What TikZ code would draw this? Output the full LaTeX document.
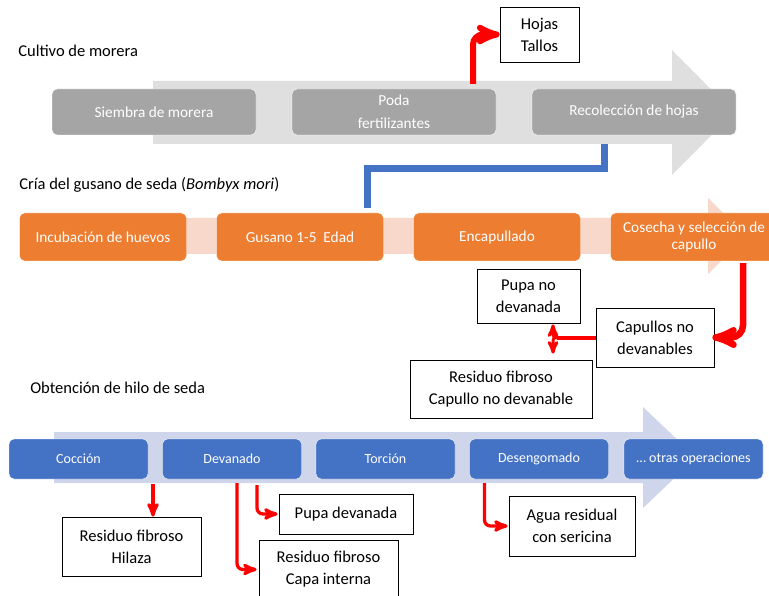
\documentclass[tikz,border=0pt]{standalone}
\usepackage{fontspec}
\setmainfont{Carlito}
\usetikzlibrary{arrows}

\definecolor{boxgray}{HTML}{A5A5A5}
\definecolor{boxorange}{HTML}{ED7D31}
\definecolor{boxblue}{HTML}{4472C4}
\definecolor{bandgray}{HTML}{DFDFDF}
\definecolor{bandpink}{HTML}{F8D8CB}
\definecolor{bandblue}{HTML}{CFD5EA}

\begin{document}
\begin{tikzpicture}[x=1pt,y=-1pt,>=stealth',semithick]
  \tikzstyle{stage}=[rounded corners=5pt,draw=white,thin,text=white,align=center,inner sep=2pt]
  \tikzstyle{graybox}=[stage,fill=boxgray,minimum width=204pt,minimum height=46pt,font=\fontsize{15.3}{23}\selectfont]
  \tikzstyle{orangebox}=[stage,fill=boxorange,minimum width=167pt,minimum height=48pt,font=\fontsize{15.3}{17}\selectfont]
  \tikzstyle{bluebox}=[stage,fill=boxblue,minimum width=139pt,minimum height=40pt,font=\fontsize{14}{17}\selectfont]
  \tikzstyle{outbox}=[draw=black,fill=white,thick,align=center,inner sep=2pt,font=\fontsize{16.5}{22}\selectfont]
  \tikzstyle{rowtitle}=[anchor=base west,inner sep=0pt,font=\fontsize{16.5}{20}\selectfont]
  \tikzstyle{waste}=[->,red,line width=3.3pt,rounded corners=6pt]

  \useasboundingbox (0,0) rectangle (769,596);
  \clip (0,0) rectangle (769,596);

  % process bands
  \fill[bandgray] (153,81) -- (672,81) -- (672,50) -- (734,112.5)
                  -- (672,175) -- (672,144) -- (153,144) -- cycle;
  \fill[bandpink] (50,218) -- (708,218) -- (708,198) -- (746,236)
                  -- (708,274) -- (708,254) -- (50,254) -- cycle;
  \fill[bandblue] (54,432) -- (643,432) -- (643,407) -- (696,457.5)
                  -- (643,508) -- (643,483) -- (54,483) -- cycle;

  % titles
  \node[rowtitle] (t1) at (18,57)  {Cultivo de morera};
  \node[rowtitle] (t2) at (19,190) {Cría del gusano de seda (\textit{Bombyx mori})};
  \node[rowtitle] (t3) at (30,393) {Obtención de hilo de seda};

  % cultivo de morera
  \node[graybox] (siembra) at (154,112) {Siembra de morera};
  \node[graybox] (poda)    at (394,112) {Poda\\fertilizantes};
  \node[graybox] (recol)   at (634,112) {Recolección de hojas};

  % cria del gusano
  \node[orangebox] (incub)   at (103,237) {Incubación de huevos};
  \node[orangebox] (gusano)  at (300,237) {Gusano 1-5~ Edad};
  \node[orangebox] (encap)   at (497,237) {Encapullado};
  \node[orangebox] (cosecha) at (694,237) {Cosecha y selección de\\capullo};

  % hilo de seda
  \node[bluebox] (coccion) at (78.5,459)  {Cocción};
  \node[bluebox] (devan)   at (232,459)   {Devanado};
  \node[bluebox] (torcion) at (385.5,459) {Torción};
  \node[bluebox] (deseng)  at (539,459)   {Desengomado};
  \node[bluebox] (otras)   at (693.5,459) {\dots\ otras operaciones};

  % residues
  \node[outbox,minimum width=79pt,minimum height=55pt]  (hojas)    at (539.5,34.5) {Hojas\\Tallos};
  \node[outbox,minimum width=103pt,minimum height=54pt] (pupanodev) at (528.5,296) {Pupa no\\devanada};
  \node[outbox,minimum width=118pt,minimum height=59pt] (capnodev) at (655,337.5) {Capullos no\\devanables};
  \node[outbox,minimum width=182pt,minimum height=58pt] (rescap)   at (501,389) {Residuo fibroso\\Capullo no devanable};
  \node[outbox,minimum width=139pt,minimum height=59pt] (hilaza)   at (131.5,546.5) {Residuo fibroso\\Hilaza};
  \node[outbox,minimum width=134pt,minimum height=40pt] (pupadev)  at (346,514) {Pupa devanada};
  \node[outbox,minimum width=139pt,minimum height=59pt] (capaint)  at (328.5,569.5) {Residuo fibroso\\Capa interna};
  \node[outbox,minimum width=126pt,minimum height=60pt] (agua)     at (572,526) {Agua residual\\con sericina};

  % connectors
  \draw[waste,line width=6pt,rounded corners=10pt]
        ([xshift=79pt,yshift=5pt]poda.north) |- (hojas.west);
  \draw[boxblue,line width=7pt]
        ([xshift=-30pt,yshift=-9pt]recol.south) -- ++(0,24)
        -| ([xshift=67pt,yshift=5pt]gusano.north);
  \draw[waste,line width=6.5pt,rounded corners=12pt,shorten >=-2pt]
        ([xshift=49pt,yshift=-2pt]cosecha.south) |- (capnodev.east);
  \coordinate (fork) at ([xshift=-43pt]capnodev.west);
  \draw[red,line width=4pt] (capnodev.west) -- ([xshift=4pt]fork);
  \draw[waste,line width=3pt,rounded corners=3pt,shorten >=0pt]
        ([xshift=7pt]fork) -| ([xshift=24.5pt,yshift=-1pt]pupanodev.south);
  \draw[waste,line width=3pt,rounded corners=3pt,shorten >=6pt]
        ([xshift=7pt]fork) -| ([xshift=52pt]rescap.north);
  \draw[waste] ([xshift=74.5pt,yshift=-5pt]coccion.south)
        -- ([xshift=74.5pt]coccion.south |- hilaza.north);
  \draw[waste,shorten >=2pt] ([xshift=5pt,yshift=-4pt]devan.south) |- (capaint.west);
  \draw[waste,shorten >=1pt] ([xshift=25pt,yshift=-6pt]devan.south) |- (pupadev.west);
  \draw[waste,shorten >=1pt] ([xshift=-54.5pt,yshift=-4pt]deseng.south) |- (agua.west);
\end{tikzpicture}
\end{document}
